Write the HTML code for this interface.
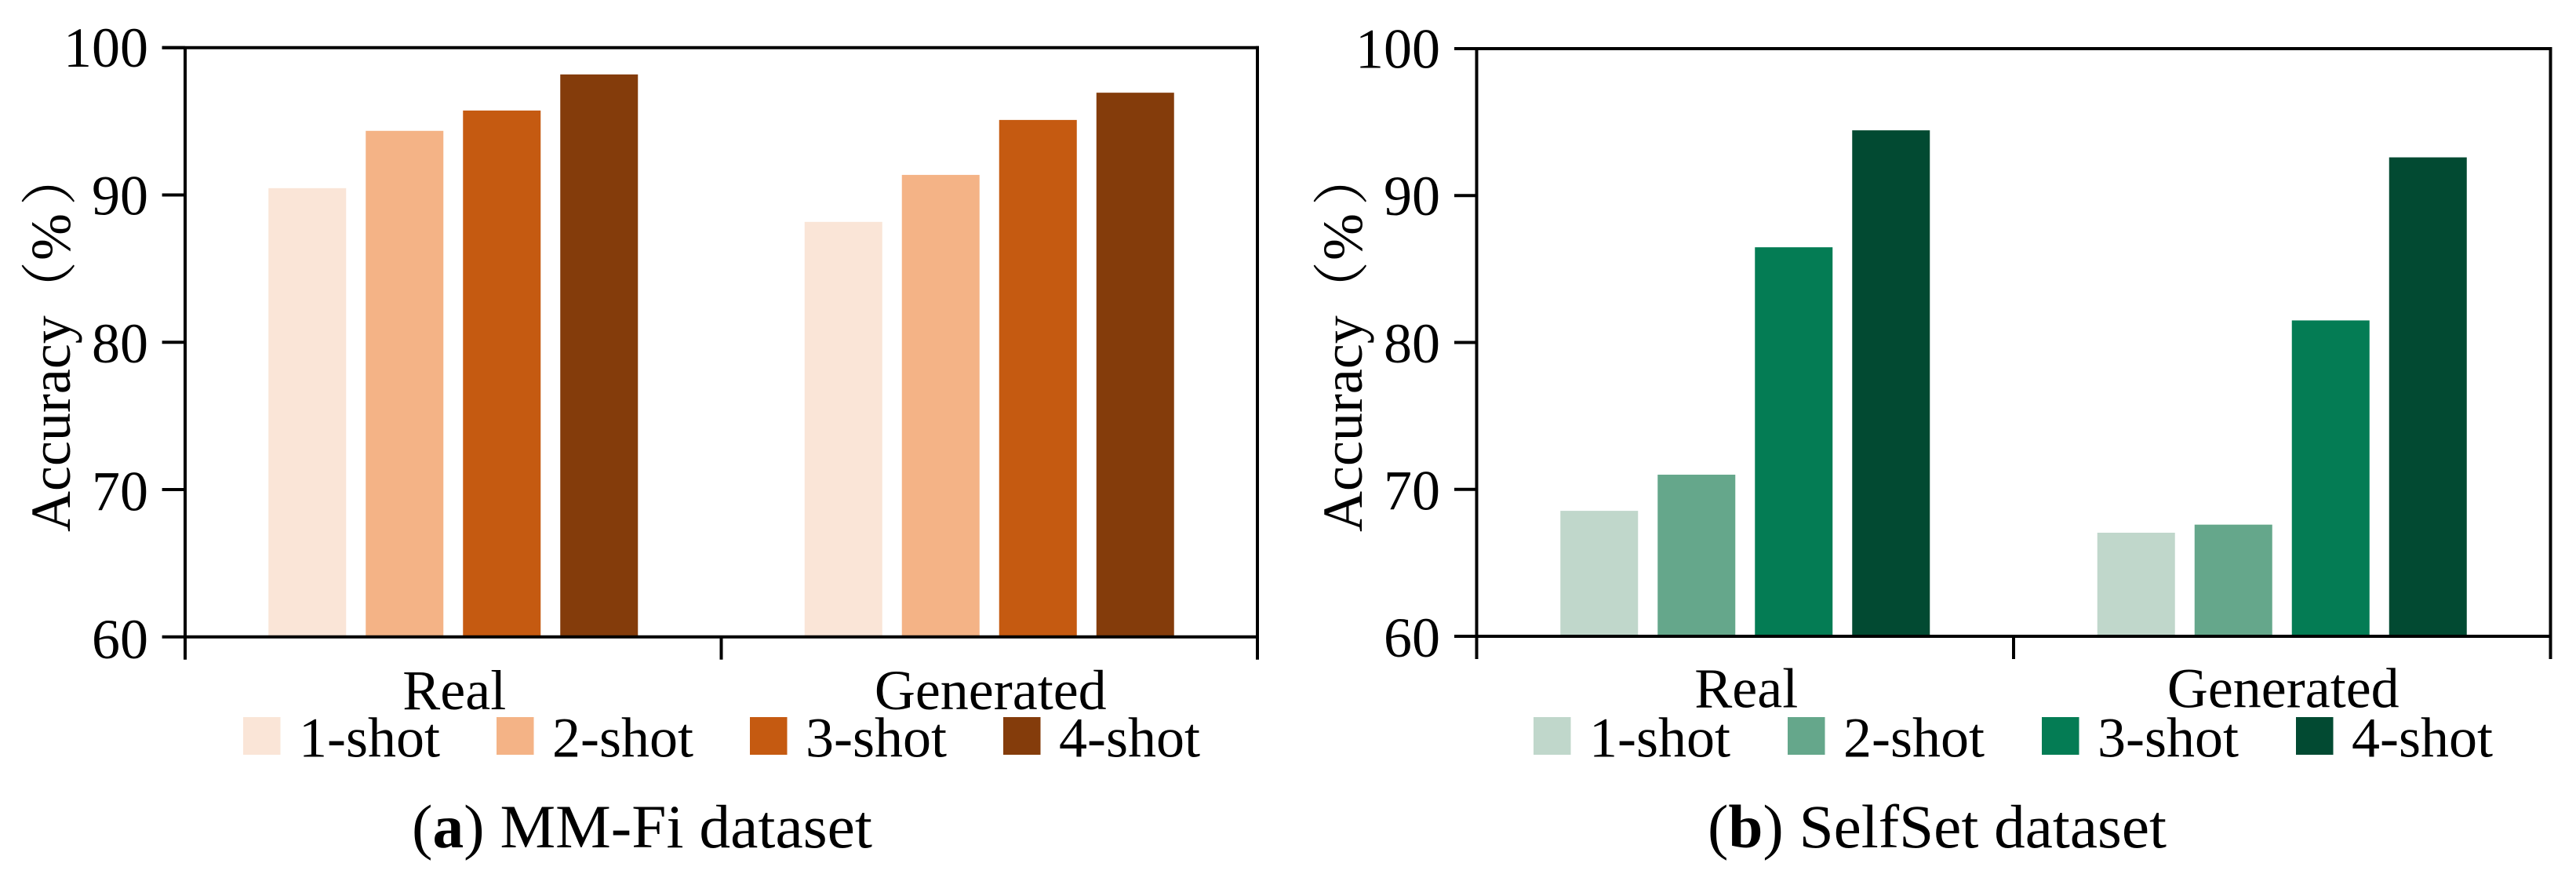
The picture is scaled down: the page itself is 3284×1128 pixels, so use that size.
<!DOCTYPE html>
<html lang="en">
<head>
<meta charset="utf-8">
<title>Accuracy by shot count: MM-Fi and SelfSet datasets</title>
<style>
  html, body { margin: 0; padding: 0; background: #ffffff; }
  body { width: 3284px; height: 1128px; overflow: hidden; }
  svg { display: block; }
  text { font-family: "Liberation Serif", "Noto Serif CJK SC", serif; fill: #000000; text-spacing-trim: space-all; }
</style>
</head>
<body>
<svg id="chart" xmlns="http://www.w3.org/2000/svg" width="3284" height="1128" viewBox="0 0 3284 1128"></svg>
<script>
const categories = ['Real', 'Generated'];
const shotLabels = ['1-shot', '2-shot', '3-shot', '4-shot'];
const yTickValues = [60, 70, 80, 90, 100];
const mmfiReal = [90.46, 94.35, 95.73, 98.18];
const mmfiGenerated = [88.17, 91.36, 95.09, 96.94];
const selfsetReal = [68.54, 71.0, 86.48, 94.44];
const selfsetGenerated = [67.05, 67.6, 81.5, 92.6];
const orangePalette = ['#fae5d7', '#f4b386', '#c55a11', '#843c0b'];
const greenPalette = ['#c0d7cb', '#65a78b', '#047c54', '#024a32'];

const svgNS = 'http://www.w3.org/2000/svg';
const root = document.getElementById('chart');

function node(tag, attrs, parent) {
  const el = document.createElementNS(svgNS, tag);
  for (const k in attrs) el.setAttribute(k, attrs[k]);
  parent.appendChild(el);
  return el;
}

function drawPanel(p) {
  const g = node('g', {}, root);
  
  

  const yMin = yTickValues[0];
  const yMax = yTickValues[yTickValues.length - 1];
  const plotW = p.right - p.left;
  const yScale = v => p.bottom - (v - yMin) / (yMax - yMin) * (p.bottom - p.top);
  const labelY = v => p.labelBottom - (v - yMin) / (yMax - yMin) * (p.labelBottom - p.labelTop);
  const xBand = i => p.left + (i + 0.5) * plotW / categories.length;
  const barW = 99;
  const barStep = 124;

  p.series.forEach((values, i) => {
    values.forEach((v, j) => {
      const x = xBand(i) + (j - (values.length - 1) / 2) * barStep - barW / 2;
      const bar = node('rect', { x: x, y: yScale(v), width: barW, height: p.bottom - yScale(v), fill: p.colors[j] }, g);
      
      
    });
  });

  const spines = [
    [p.tickLeft, p.top, p.right + 2, p.top, 4],
    [p.left, p.top, p.left, p.tickBottom, 4],
    [p.right, p.top - 2, p.right, p.tickBottom, 4],
    [p.left, p.bottom, p.right, p.bottom, 4]
  ];
  spines.forEach((s, idx) => {
    const line = node('line', { x1: s[0], y1: s[1], x2: s[2], y2: s[3], stroke: '#000', 'stroke-width': s[4] }, g);
    
    
  });

  yTickValues.forEach(v => {
    const tick = node('line', { x1: p.tickLeft, y1: yScale(v), x2: p.left, y2: yScale(v), stroke: '#000', 'stroke-width': 4 }, g);
    
    
    const label = node('text', { x: p.tickLabelX, y: labelY(v), 'text-anchor': 'end', 'font-size': 72 }, g);
    label.textContent = String(v);
    
    
  });

  const mid = p.left + plotW / 2;
  const midTick = node('line', { x1: mid, y1: p.bottom, x2: mid, y2: p.tickBottom, stroke: '#000', 'stroke-width': 4 }, g);
  
  

  categories.forEach((c, i) => {
    const label = node('text', { x: xBand(i) + 1.5, y: p.catBaseline, 'text-anchor': 'middle', 'font-size': 72 }, g);
    label.textContent = c;
    
    
  });

  const title = node('text', { transform: 'translate(' + p.titleX + ',678) rotate(-90)', 'font-size': 72 }, g);
  const word = node('tspan', { x: 0 }, title);
  word.textContent = 'Accuracy';
  const openParen = node('tspan', { x: 273 }, title);
  openParen.textContent = '（';
  const percent = node('tspan', { x: 346 }, title);
  percent.textContent = '%';
  const closeParen = node('tspan', { x: 416 }, title);
  closeParen.textContent = '）';
  
  

  shotLabels.forEach((s, j) => {
    const sx = p.legendX + j * p.legendStep;
    const swatch = node('rect', { x: sx, y: 914, width: 47.5, height: 48, fill: p.colors[j] }, g);
    
    
    const label = node('text', { x: sx + 71, y: 964.5, 'font-size': 72 }, g);
    label.textContent = s;
    
    
  });

  const caption = node('text', { x: p.captionX, y: 1080, 'font-size': 78, textLength: p.captionLen, lengthAdjust: 'spacingAndGlyphs' }, g);
  caption.appendChild(document.createTextNode('('));
  const letter = node('tspan', { 'font-weight': 'bold' }, caption);
  letter.textContent = p.captionLetter;
  caption.appendChild(document.createTextNode(') ' + p.captionText));
  
  
}

drawPanel({
  key: 'mmfi',
  series: [mmfiReal, mmfiGenerated],
  colors: orangePalette,
  left: 236, right: 1603, top: 60.7, bottom: 811.7,
  tickLeft: 206.6, tickBottom: 840.7, tickLabelX: 189,
  labelTop: 85, labelBottom: 839,
  catBaseline: 904, titleX: 89,
  legendX: 310, legendStep: 323,
  captionX: 525, captionLen: 587, captionLetter: 'a', captionText: 'MM-Fi dataset'
});

drawPanel({
  key: 'selfset',
  series: [selfsetReal, selfsetGenerated],
  colors: greenPalette,
  left: 1882.5, right: 3251.5, top: 62, bottom: 811,
  tickLeft: 1854, tickBottom: 840, tickLabelX: 1836,
  labelTop: 86.5, labelBottom: 837,
  catBaseline: 901.5, titleX: 1736,
  legendX: 1955, legendStep: 324,
  captionX: 2177, captionLen: 585, captionLetter: 'b', captionText: 'SelfSet dataset'
});
</script>
</body>
</html>
